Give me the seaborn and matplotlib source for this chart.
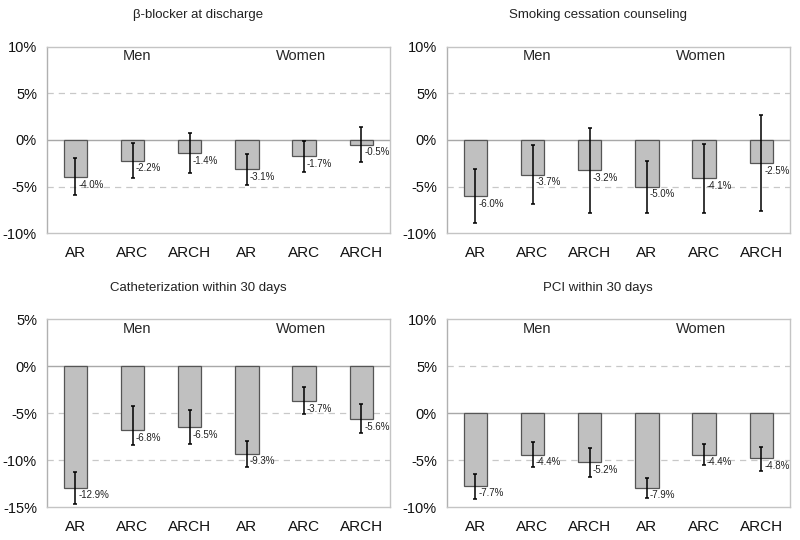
import matplotlib
matplotlib.use("Agg")
import matplotlib.pyplot as plt
import seaborn as sns
import pandas as pd

sns.set_style("white")
plt.rcParams["font.family"] = ["Liberation Sans", "DejaVu Sans"]

# ---- data ----
groups = ["Men", "Men", "Men", "Women", "Women", "Women"]
measures = ["AR", "ARC", "ARCH", "AR", "ARC", "ARCH"]

titles = ["\u03b2-blocker at discharge", "Smoking cessation counseling",
          "Catheterization within 30 days", "PCI within 30 days"]

bb_vals = [-4.0, -2.2, -1.4, -3.1, -1.7, -0.5]
bb_lo = [-5.9, -4.1, -3.5, -4.8, -3.4, -2.4]
bb_hi = [-1.9, -0.3, 0.8, -1.5, -0.1, 1.4]

sm_vals = [-6.0, -3.7, -3.2, -5.0, -4.1, -2.5]
sm_lo = [-8.9, -6.9, -7.8, -7.8, -7.8, -7.6]
sm_hi = [-3.1, -0.5, 1.3, -2.2, -0.4, 2.7]

ca_vals = [-12.9, -6.8, -6.5, -9.3, -3.7, -5.6]
ca_lo = [-14.7, -8.4, -8.3, -10.7, -5.05, -7.1]
ca_hi = [-11.2, -4.2, -4.7, -7.9, -2.25, -4.0]

pci_vals = [-7.7, -4.4, -5.2, -7.9, -4.4, -4.8]
pci_lo = [-9.1, -5.7, -6.8, -9.0, -5.5, -6.1]
pci_hi = [-6.5, -3.1, -3.7, -6.9, -3.3, -3.6]

panel_vals = [bb_vals, sm_vals, ca_vals, pci_vals]
panel_lo = [bb_lo, sm_lo, ca_lo, pci_lo]
panel_hi = [bb_hi, sm_hi, ca_hi, pci_hi]
panel_ylim = [(-10, 10), (-10, 10), (-15, 5), (-10, 10)]

W, H = 800, 540
fig = plt.figure(figsize=(8, 5.4), dpi=100)

# axes rectangles in pixels: left, top, right, bottom
rects = [(46.7, 46.7, 390, 233.3), (446.7, 46.7, 790, 233.3),
         (46.7, 319.3, 390, 507.3), (446.7, 319.3, 790, 507.3)]
title_pos = [(198, 15), (598, 15), (198, 288), (598, 288)]

grid_c = "#c8c8c8"
for i in range(4):
    l, t, r, b = rects[i]
    ax = fig.add_axes([l / W, 1 - b / H, (r - l) / W, (b - t) / H])
    keys = [f"{g} {m}" for g, m in zip(groups, measures)]
    df = pd.DataFrame({"key": keys, "value": panel_vals[i]})
    sns.barplot(data=df, x="key", y="value", order=keys, color="#c0c0c0",
                edgecolor="#555555", linewidth=0.9, width=0.41, ax=ax,
                saturation=1, errorbar=None, zorder=2)
    lo, hi = panel_lo[i], panel_hi[i]
    centers = [p.get_x() + p.get_width() / 2 for p in ax.patches]
    for x, v, a, bb in zip(centers, panel_vals[i], lo, hi):
        ax.errorbar([x], [v], yerr=[[v - a], [bb - v]], fmt="none",
                    ecolor="black", elinewidth=1.1, capsize=1.6,
                    capthick=1.1, zorder=3)
        ax.annotate(f"{v:.1f}%", xy=(x, v), xytext=(2, -2),
                    textcoords="offset points", ha="left", va="top",
                    fontsize=7, color="#222222", zorder=4)
    y0, y1 = panel_ylim[i]
    ax.set_ylim(y0, y1)
    ax.set_xlim(-0.5, 5.5)
    ticks = list(range(y0, y1 + 1, 5))
    ax.set_yticks(ticks)
    ax.set_yticklabels([f"{tk}%" for tk in ticks], fontsize=10.5, color="#111111")
    ax.set_xticks(range(6))
    ax.set_xticklabels(measures, fontsize=11, color="#111111")
    ax.tick_params(axis="both", length=0)
    ax.tick_params(axis="y", pad=7)
    ax.tick_params(axis="x", pad=9)
    ax.set_xlabel("")
    ax.set_ylabel("")
    for tk in ticks[1:-1]:
        if tk == 0:
            ax.axhline(0, color="#a8a8a8", lw=1.0, zorder=1)
        else:
            ax.axhline(tk, color=grid_c, lw=0.9, ls=(0, (5, 4)), zorder=1)
    for s in ax.spines.values():
        s.set_visible(True)
        s.set_color("#c4c4c4")
        s.set_linewidth(1.0)
    ax.spines["left"].set_color("#b0b0b0")
    ax.text(1.08, 0.948, "Men", transform=ax.get_xaxis_transform(),
            ha="center", va="center", fontsize=10.5)
    ax.text(3.95, 0.948, "Women", transform=ax.get_xaxis_transform(),
            ha="center", va="center", fontsize=10.5)
    tx, ty = title_pos[i]
    fig.text(tx / W, 1 - ty / H, titles[i], ha="center", va="center",
             fontsize=9.5, color="#222222")

fig.savefig("out.png", dpi=100)
